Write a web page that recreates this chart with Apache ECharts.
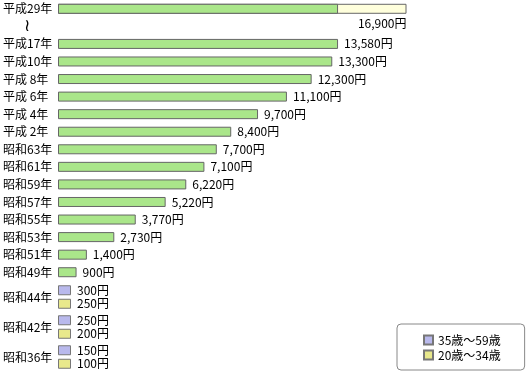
<!DOCTYPE html>
<html>
<head>
<meta charset="utf-8">
<script src="https://cdn.jsdelivr.net/npm/echarts@6/dist/echarts.min.js"></script>
<style>
html,body{margin:0;padding:0;background:#fff;}
#chart{width:527px;height:373px;}
</style>
</head>
<body>
<div id="chart"></div>
<script>
// Monthly premium (円) by year
const categories = ['平成29年', '〜', '平成17年', '平成10年', '平成 8年', '平成 6年', '平成 4年', '平成 2年',
  '昭和63年', '昭和61年', '昭和59年', '昭和57年', '昭和55年', '昭和53年', '昭和51年', '昭和49年'];
const premiums = [16900, null, 13580, 13300, 12300, 11100, 9700, 8400, 7700, 7100, 6220, 5220, 3770, 2730, 1400, 900];

// Early years split by age group
const earlyYears = ['昭和44年', '昭和42年', '昭和36年'];
const age35to59 = [300, 250, 150];
const age20to34 = [250, 200, 100];
const ageNames = ['35歳〜59歳', '20歳〜34歳'];

const FONT = "'Noto Sans CJK JP', 'Noto Sans', sans-serif";
const yen = v => String(v).replace(/\B(?=(\d{3})+(?!\d))/g, ',') + '円';

// top bar: green part = 平成17年 level, cream remainder up to 平成29年 value
const baseIdx = categories.indexOf('平成17年');
const greenData = premiums.map((v, i) => i === 0 ? premiums[baseIdx] : v);
const creamData = premiums.map((v, i) => i === 0 ? v : null);

const AXMAX = 22500;
const xAxisCommon = { type: 'value', min: 0, max: AXMAX, show: false };
const border = '#666666';

const chart = echarts.init(document.getElementById('chart'), null, { renderer: 'canvas' });
chart.setOption({
  animation: false,
  backgroundColor: '#ffffff',
  textStyle: { fontFamily: FONT, fontSize: 12, color: '#000' },
  grid: [
    { left: 57, top: 0, width: 465, height: 281 },
    { left: 57, top: 282, width: 465, height: 90 }
  ],
  xAxis: [
    Object.assign({ gridIndex: 0 }, xAxisCommon),
    Object.assign({ gridIndex: 1 }, xAxisCommon)
  ],
  yAxis: [
    {
      gridIndex: 0, type: 'category', data: categories, inverse: true,
      axisLine: { show: false }, axisTick: { show: false }, splitLine: { show: false },
      axisLabel: {
        interval: 0, hideOverlap: false,
        align: 'left', margin: 55, color: '#000', fontSize: 12, fontFamily: FONT,
        formatter: v => v === '〜' ? '{w|≀}' : v,
        rich: { w: { padding: [0, 0, 0, 21], fontSize: 17, fontFamily: "'DejaVu Sans', sans-serif", color: '#000' } }
      }
    },
    {
      gridIndex: 1, type: 'category', data: earlyYears, inverse: true,
      axisLine: { show: false }, axisTick: { show: false }, splitLine: { show: false },
      axisLabel: { interval: 0, align: 'left', margin: 55, color: '#000', fontSize: 12, fontFamily: FONT }
    }
  ],
  legend: {
    data: ageNames,
    orient: 'vertical',
    left: 397, top: 324,
    padding: [10, 24, 9, 26],
    itemWidth: 9, itemHeight: 9, itemGap: 3,
    borderColor: '#888888', borderWidth: 1, borderRadius: 4,
    icon: 'rect',
    textStyle: { fontSize: 12, fontFamily: FONT, color: '#000' }
  },
  series: [
    {
      name: '平成29年保険料', type: 'bar', xAxisIndex: 0, yAxisIndex: 0,
      data: creamData, barWidth: 10,
      itemStyle: { color: '#ffffdc', borderColor: border, borderWidth: 1 },
      label: {
        show: true, position: ['100%', '100%'], align: 'right', verticalAlign: 'top',
        offset: [0, 4], formatter: p => yen(p.value), color: '#000', fontSize: 12, fontFamily: FONT
      }
    },
    {
      name: '保険料', type: 'bar', xAxisIndex: 0, yAxisIndex: 0,
      data: greenData, barWidth: 10, barGap: '-100%',
      itemStyle: { color: '#aae68a', borderColor: border, borderWidth: 1 },
      label: {
        show: true, position: 'right', distance: 6,
        formatter: p => p.dataIndex === 0 ? '' : yen(p.value),
        color: '#000', fontSize: 12, fontFamily: FONT
      }
    },
    {
      name: ageNames[0], type: 'bar', xAxisIndex: 1, yAxisIndex: 1,
      data: age35to59, barWidth: 10, barGap: '35%', barMinHeight: 13,
      itemStyle: { color: '#b9b9ec', borderColor: '#777777', borderWidth: 1 },
      label: { show: true, position: 'right', distance: 6, formatter: p => yen(p.value), color: '#000', fontSize: 12, fontFamily: FONT }
    },
    {
      name: ageNames[1], type: 'bar', xAxisIndex: 1, yAxisIndex: 1,
      data: age20to34, barWidth: 10, barGap: '35%', barMinHeight: 13,
      itemStyle: { color: '#e8e88c', borderColor: '#777777', borderWidth: 1 },
      label: { show: true, position: 'right', distance: 6, formatter: p => yen(p.value), color: '#000', fontSize: 12, fontFamily: FONT }
    }
  ]
});
</script>
</body>
</html>
